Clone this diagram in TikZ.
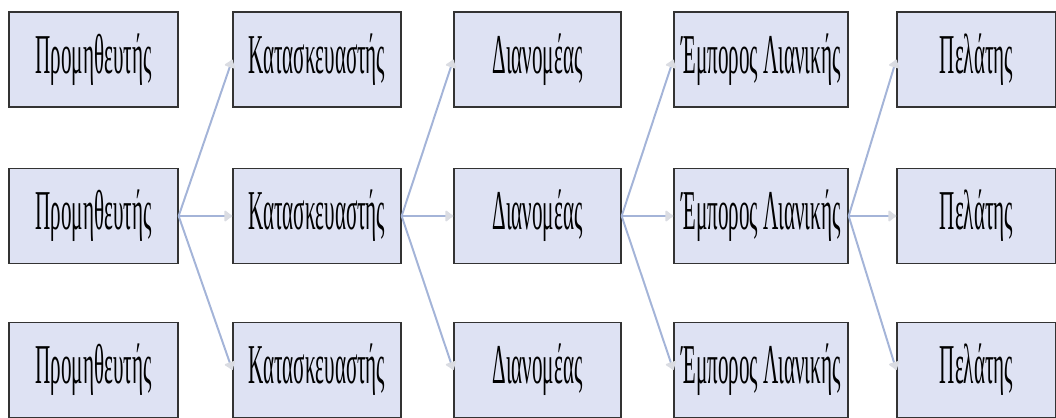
\documentclass[tikz,border=0pt]{standalone}
\usepackage{fontspec}
\setmainfont{Liberation Serif}
\usepackage{graphicx}
\usetikzlibrary{arrows.meta,positioning}
\definecolor{BoxFill}{HTML}{DEE2F3}
\definecolor{LinkBlue}{HTML}{A4B4D8}
\definecolor{TipGrey}{HTML}{DADCE2}
\newcommand{\narrowtxt}[1]{\scalebox{0.375}[1]{#1}}

\begin{document}
\begin{tikzpicture}[x=0.025cm,y=-0.025cm,
    stage/.style={draw=black!80, fill=BoxFill, line width=0.9pt,
          minimum height=2.375cm, inner sep=0pt,
          font=\fontsize{40}{40}\selectfont},
    link/.style={draw=LinkBlue, line width=1.4pt,
          -{Latex[round,length=6.5pt,width=10pt,color=TipGrey]}}]
  \useasboundingbox (0,0) rectangle (1056,417);
  % five stages of the chain, three boxes each
  \foreach \name/\txt/\cx/\w in {sup/Προμηθευτής/93.5/4.225,
      man/Κατασκευαστής/317/4.2, dis/Διανομέας/537.5/4.175,
      ret/Έμπορος Λιανικής/761/4.35, cus/Πελάτης/976.5/3.975}
    \foreach \r/\cy in {1/59.5, 2/216, 3/370}
      \node[stage, minimum width=\w cm] (\name\r) at (\cx,\cy) {\narrowtxt{\txt}};
  % links from each middle box to the next stage
  \foreach \a/\b in {sup/man, man/dis, dis/ret, ret/cus}
    \foreach \r in {1,2,3}
      \draw[link] (\a2.east) -- (\b\r.west);
\end{tikzpicture}
\end{document}
